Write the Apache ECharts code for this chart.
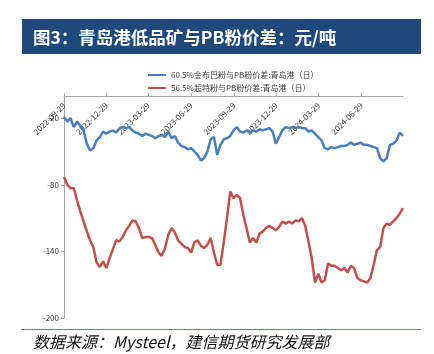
<!DOCTYPE html>
<html>
<head>
<meta charset="utf-8">
<script src="https://cdn.jsdelivr.net/npm/echarts@6/dist/echarts.min.js"></script>
<style>
	html, body { margin: 0; padding: 0; background: #fff; }
	#chart { width: 434px; height: 354px; }
</style>
</head>
<body>
<div id="chart"></div>
<script>
// daily categories, one sample every 7 days
const startDate = '2022-09-29'
const dayCount = 729
const sampleStep = 7

const quarterLabels = [
	'2022-09-29', '2022-12-29', '2023-03-29', '2023-06-29',
	'2023-09-29', '2023-12-29', '2024-03-29', '2024-06-29'
]

const seriesNames = [
	'60.5%金布巴粉与PB粉价差:青岛港（日）',
	'56.5%超特粉与PB粉价差:青岛港（日）'
]

const jinbubaValues = [
	-19, -23, -20, -28, -23, -27, -31, -43, -49, -47,
	-40, -37, -32, -34, -32, -31, -33, -29, -28, -29,
	-28, -31, -33, -34, -36, -34, -35, -36, -38, -36,
	-35, -37, -32, -38, -36, -42, -45, -46, -48, -47,
	-50, -53, -58, -56, -50, -39, -37, -53, -44, -39,
	-38, -36, -31, -28, -32, -33, -31, -33, -31, -32,
	-30, -31, -30, -29, -32, -43, -37, -31, -28, -29,
	-28, -29, -28, -29, -29, -32, -31, -34, -37, -40,
	-47, -48, -46, -47, -46, -45, -45, -44, -42, -44,
	-43, -42, -44, -44, -45, -46, -47, -56, -59, -56,
	-44, -43, -40, -33, -36
]

const chaotefenValues = [
	-73, -80, -83, -83, -94, -104, -113, -122, -130, -136,
	-150, -154, -149, -155, -146, -138, -130, -131, -127, -121,
	-117, -112, -113, -119, -128, -127, -127, -128, -134, -141,
	-144, -137, -125, -119, -123, -130, -133, -136, -137, -141,
	-132, -130, -135, -137, -134, -128, -141, -152, -152, -132,
	-110, -86, -92, -89, -92, -107, -119, -132, -128, -132,
	-124, -122, -119, -117, -119, -121, -118, -113, -115, -113,
	-115, -112, -113, -110, -117, -131, -146, -168, -160, -168,
	-166, -151, -153, -153, -155, -157, -155, -159, -153, -155,
	-164, -166, -167, -168, -164, -152, -139, -136, -119, -115,
	-116, -113, -110, -106, -101
]

function buildDates(start, count) {
	const t0 = Date.parse(start + 'T00:00:00Z')
	const dates = []
	for (let i = 0; i < count; i++) {
		dates.push(new Date(t0 + i * 86400000).toISOString().slice(0, 10))
	}
	return dates
}

function toPairs(values) {
	return values.map((v, k) => [k * sampleStep, v])
}

const dates = buildDates(startDate, dayCount)
const isQuarter = (index, value) => quarterLabels.indexOf(value) >= 0

const chart = echarts.init(document.getElementById('chart'))

chart.setOption({
	animation: false,
	textStyle: { fontFamily: '"Noto Sans CJK SC", "Noto Sans", sans-serif' },
	graphic: [
		{
			type: 'rect',
			shape: { x: 22, y: 19, width: 399, height: 35 },
			style: { fill: '#1F497D' }
		},
		{
			type: 'text',
			x: 33, y: 37,
			style: {
				text: '图3：青岛港低品矿与PB粉价差：元/吨',
				fill: '#fff',
				font: 'bold 17.5px "Noto Sans CJK SC"',
				verticalAlign: 'middle'
			}
		},
		{
			type: 'line',
			shape: { x1: 21, y1: 329.5, x2: 421, y2: 329.5 },
			style: { stroke: '#5B83B8', lineWidth: 1 }
		},
		{
			type: 'text',
			x: 33, y: 342,
			style: {
				text: '数据来源：Mysteel，建信期货研究发展部',
				fill: '#111',
				font: 'italic 16px "Noto Sans CJK SC"',
				verticalAlign: 'middle'
			}
		}
	],
	legend: {
		orient: 'vertical',
		left: 143,
		top: 66,
		itemGap: 5,
		itemWidth: 18,
		itemHeight: 2,
		icon: 'rect',
		textStyle: { fontSize: 8, color: '#404040' },
		data: seriesNames
	},
	grid: { left: 64, right: 31, top: 96, bottom: 36 },
	xAxis: {
		type: 'category',
		position: 'top',
		data: dates,
		boundaryGap: false,
		axisLine: { lineStyle: { color: '#A6A6A6' } },
		axisTick: { interval: isQuarter, length: 3, lineStyle: { color: '#A6A6A6' } },
		axisLabel: {
			interval: isQuarter,
			inside: true,
			rotate: 45,
			fontSize: 8,
			color: '#333'
		}
	},
	yAxis: {
		type: 'value',
		min: -200,
		max: 0,
		interval: 60,
		axisLine: { show: true, lineStyle: { color: '#A6A6A6' } },
		axisTick: { show: true, length: 3, lineStyle: { color: '#A6A6A6' } },
		splitLine: { show: false },
		axisLabel: { fontSize: 8, color: '#333', showMaxLabel: false, margin: 5 }
	},
	series: [
		{
			name: seriesNames[0],
			type: 'line',
			data: toPairs(jinbubaValues),
			showSymbol: false,
			lineStyle: { width: 2.5, color: '#4A7EBB' },
			itemStyle: { color: '#4A7EBB' }
		},
		{
			name: seriesNames[1],
			type: 'line',
			data: toPairs(chaotefenValues),
			showSymbol: false,
			lineStyle: { width: 2.5, color: '#C0504D' },
			itemStyle: { color: '#C0504D' }
		}
	]
})
</script>
</body>
</html>
